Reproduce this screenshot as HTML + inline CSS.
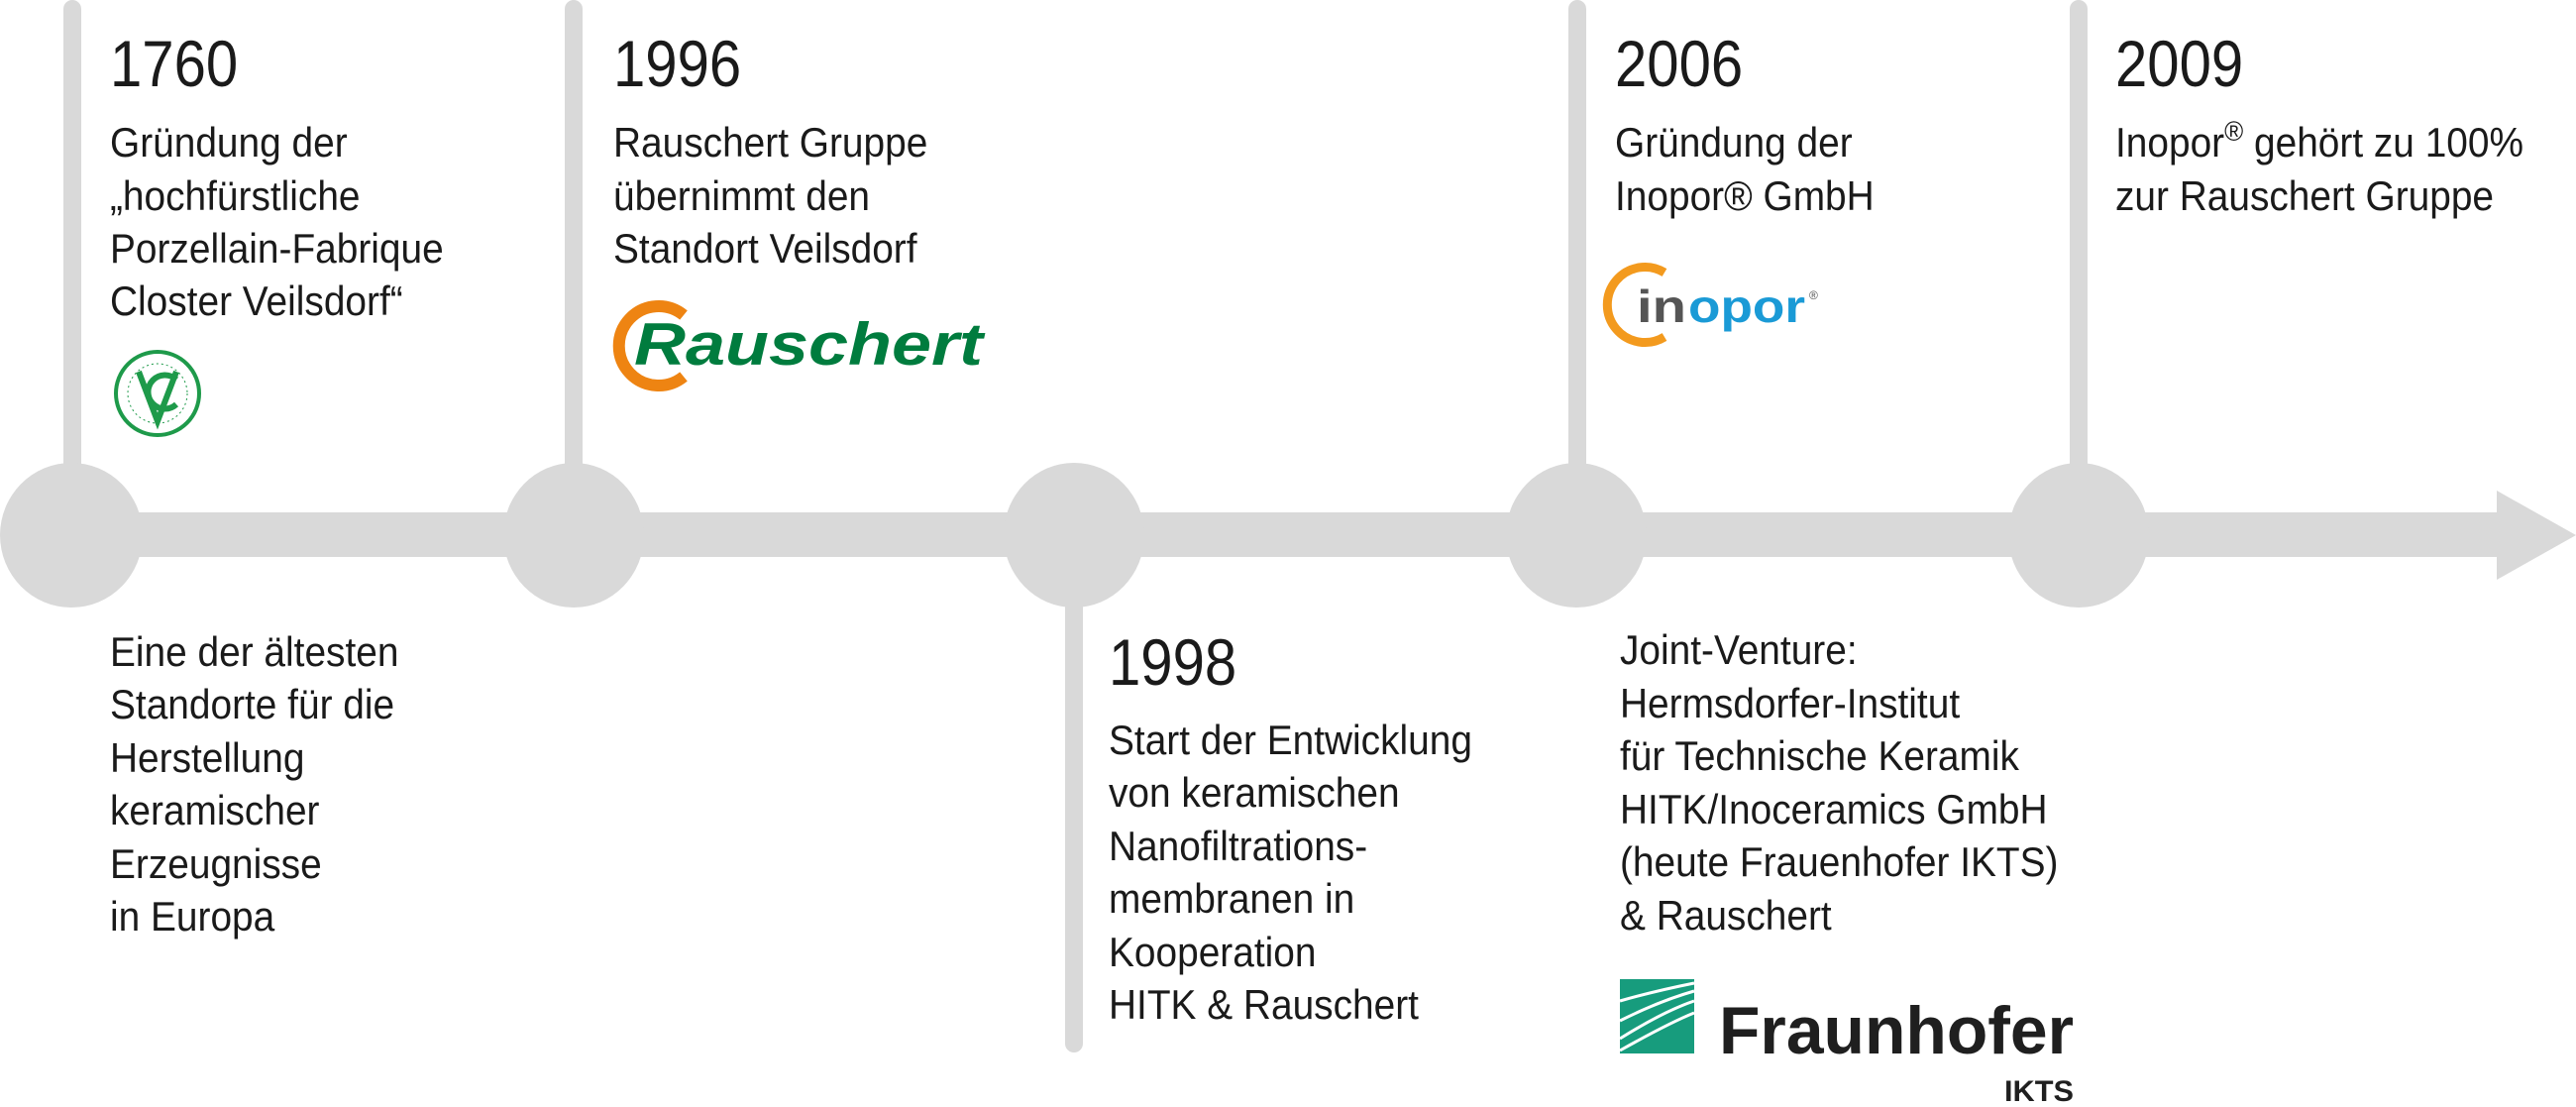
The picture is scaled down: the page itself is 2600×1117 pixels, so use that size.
<!DOCTYPE html>
<html><head><meta charset="utf-8"><style>
html,body{margin:0;padding:0;background:#fff;}
svg{display:block;}
text{font-family:"Liberation Sans Narrow","Liberation Sans",sans-serif;fill:#1a1a1a;}
.y{font-size:66px;}
.b{font-size:42px;}
</style></head><body>
<svg width="2600" height="1117" viewBox="0 0 2600 1117" xmlns="http://www.w3.org/2000/svg">
<g fill="#d9d9d9">
  <rect x="64" y="0" width="18" height="540" rx="9"/>
  <rect x="570" y="0" width="18" height="540" rx="9"/>
  <rect x="1583" y="0" width="18" height="540" rx="9"/>
  <rect x="2089" y="0" width="18" height="540" rx="9"/>
  <rect x="1075" y="540" width="18" height="522" rx="9"/>
  <rect x="60" y="517" width="2462" height="45"/>
  <polygon points="2520,495 2600,540 2520,585"/>
  <ellipse cx="72" cy="540" rx="72" ry="73"/>
  <ellipse cx="579" cy="540" rx="71" ry="73"/>
  <ellipse cx="1084" cy="540" rx="71" ry="73"/>
  <ellipse cx="1591" cy="540" rx="71" ry="73"/>
  <ellipse cx="2098" cy="540" rx="71" ry="73"/>
</g>

<g transform="translate(111,0) scale(0.88,1)">
  <text class="y" x="0" y="87">1760</text>
</g>
<g transform="translate(111,0) scale(0.925,1)">
  <text class="b" x="0" y="158">Gründung der</text>
  <text class="b" x="0" y="212">„hochfürstliche</text>
  <text class="b" x="0" y="265">Porzellain-Fabrique</text>
  <text class="b" x="0" y="318">Closter Veilsdorf“</text>
  <text class="b" x="0" y="672">Eine der ältesten</text>
  <text class="b" x="0" y="725">Standorte für die</text>
  <text class="b" x="0" y="779">Herstellung</text>
  <text class="b" x="0" y="832">keramischer</text>
  <text class="b" x="0" y="886">Erzeugnisse</text>
  <text class="b" x="0" y="939">in Europa</text>
</g>
<g>
  <circle cx="159" cy="397" r="42" fill="none" stroke="#1e9a4a" stroke-width="4"/>
  <circle cx="159" cy="397" r="30" fill="none" stroke="#1e9a4a" stroke-width="1" stroke-dasharray="2 3"/>
  <path d="M140 375 L159 425 L178 375" fill="none" stroke="#1e9a4a" stroke-width="6"/>
  <path d="M178 383 A17 17 0 1 0 178 408" fill="none" stroke="#1e9a4a" stroke-width="6"/>
</g>

<g transform="translate(619,0) scale(0.88,1)">
  <text class="y" x="0" y="87">1996</text>
</g>
<g transform="translate(619,0) scale(0.925,1)">
  <text class="b" x="0" y="158">Rauschert Gruppe</text>
  <text class="b" x="0" y="212">übernimmt den</text>
  <text class="b" x="0" y="265">Standort Veilsdorf</text>
</g>
<g>
  <path d="M690 318 A40 40 0 1 0 690 380" fill="none" stroke="#ee8412" stroke-width="12"/>
  <text x="640" y="368" style="font-family:'Liberation Sans',sans-serif;font-weight:bold;font-style:italic;font-size:60px;fill:#007c3e" textLength="352" lengthAdjust="spacingAndGlyphs">Rauschert</text>
</g>

<g transform="translate(1119,0) scale(0.88,1)">
  <text class="y" x="0" y="691">1998</text>
</g>
<g transform="translate(1119,0) scale(0.925,1)">
  <text class="b" x="0" y="761">Start der Entwicklung</text>
  <text class="b" x="0" y="814">von keramischen</text>
  <text class="b" x="0" y="868">Nanofiltrations-</text>
  <text class="b" x="0" y="921">membranen in</text>
  <text class="b" x="0" y="975">Kooperation</text>
  <text class="b" x="0" y="1028">HITK &amp; Rauschert</text>
</g>

<g transform="translate(1630,0) scale(0.88,1)">
  <text class="y" x="0" y="87">2006</text>
</g>
<g transform="translate(1630,0) scale(0.925,1)">
  <text class="b" x="0" y="158">Gründung der</text>
  <text class="b" x="0" y="212">Inopor® GmbH</text>
</g>
<g>
  <path d="M1680 275 A38 38 0 1 0 1680 340" fill="none" stroke="#f39a1e" stroke-width="9"/>
  <text x="1652" y="325" style="font-family:'Liberation Sans',sans-serif;font-weight:bold;font-size:46px;fill:#555" textLength="50" lengthAdjust="spacingAndGlyphs">in</text>
  <text x="1704" y="325" style="font-family:'Liberation Sans',sans-serif;font-weight:bold;font-size:46px;fill:#1a9ad6" textLength="118" lengthAdjust="spacingAndGlyphs">opor</text>
  <text x="1826" y="302" style="font-family:'Liberation Sans',sans-serif;font-size:12px;fill:#555">®</text>
</g>
<g transform="translate(1635,0) scale(0.925,1)">
  <text class="b" x="0" y="670">Joint-Venture:</text>
  <text class="b" x="0" y="724">Hermsdorfer-Institut</text>
  <text class="b" x="0" y="777">für Technische Keramik</text>
  <text class="b" x="0" y="831">HITK/Inoceramics GmbH</text>
  <text class="b" x="0" y="884">(heute Frauenhofer IKTS)</text>
  <text class="b" x="0" y="938">&amp; Rauschert</text>
</g>
<g>
  <rect x="1635" y="988" width="75" height="75" fill="#179c7d"/>
  <path d="M1635 1010 Q1670 1000 1710 992 M1635 1030 Q1675 1010 1710 1000 M1635 1048 Q1680 1020 1710 1010 M1635 1060 Q1685 1032 1710 1022" stroke="#fff" stroke-width="3" fill="none"/>
  <text x="1735" y="1063" style="font-family:'Liberation Sans',sans-serif;font-weight:bold;font-size:68px;fill:#1f1f1f" textLength="358" lengthAdjust="spacingAndGlyphs">Fraunhofer</text>
  <text x="2023" y="1111" style="font-family:'Liberation Sans',sans-serif;font-weight:bold;font-size:30px;fill:#1f1f1f" textLength="70" lengthAdjust="spacingAndGlyphs">IKTS</text>
</g>

<g transform="translate(2135,0) scale(0.88,1)">
  <text class="y" x="0" y="87">2009</text>
</g>
<g transform="translate(2135,0) scale(0.925,1)">
  <text class="b" x="0" y="158">Inopor<tspan dy="-16" font-size="28">®</tspan><tspan dy="16"> gehört zu 100%</tspan></text>
  <text class="b" x="0" y="212">zur Rauschert Gruppe</text>
</g>
</svg>
</body></html>
